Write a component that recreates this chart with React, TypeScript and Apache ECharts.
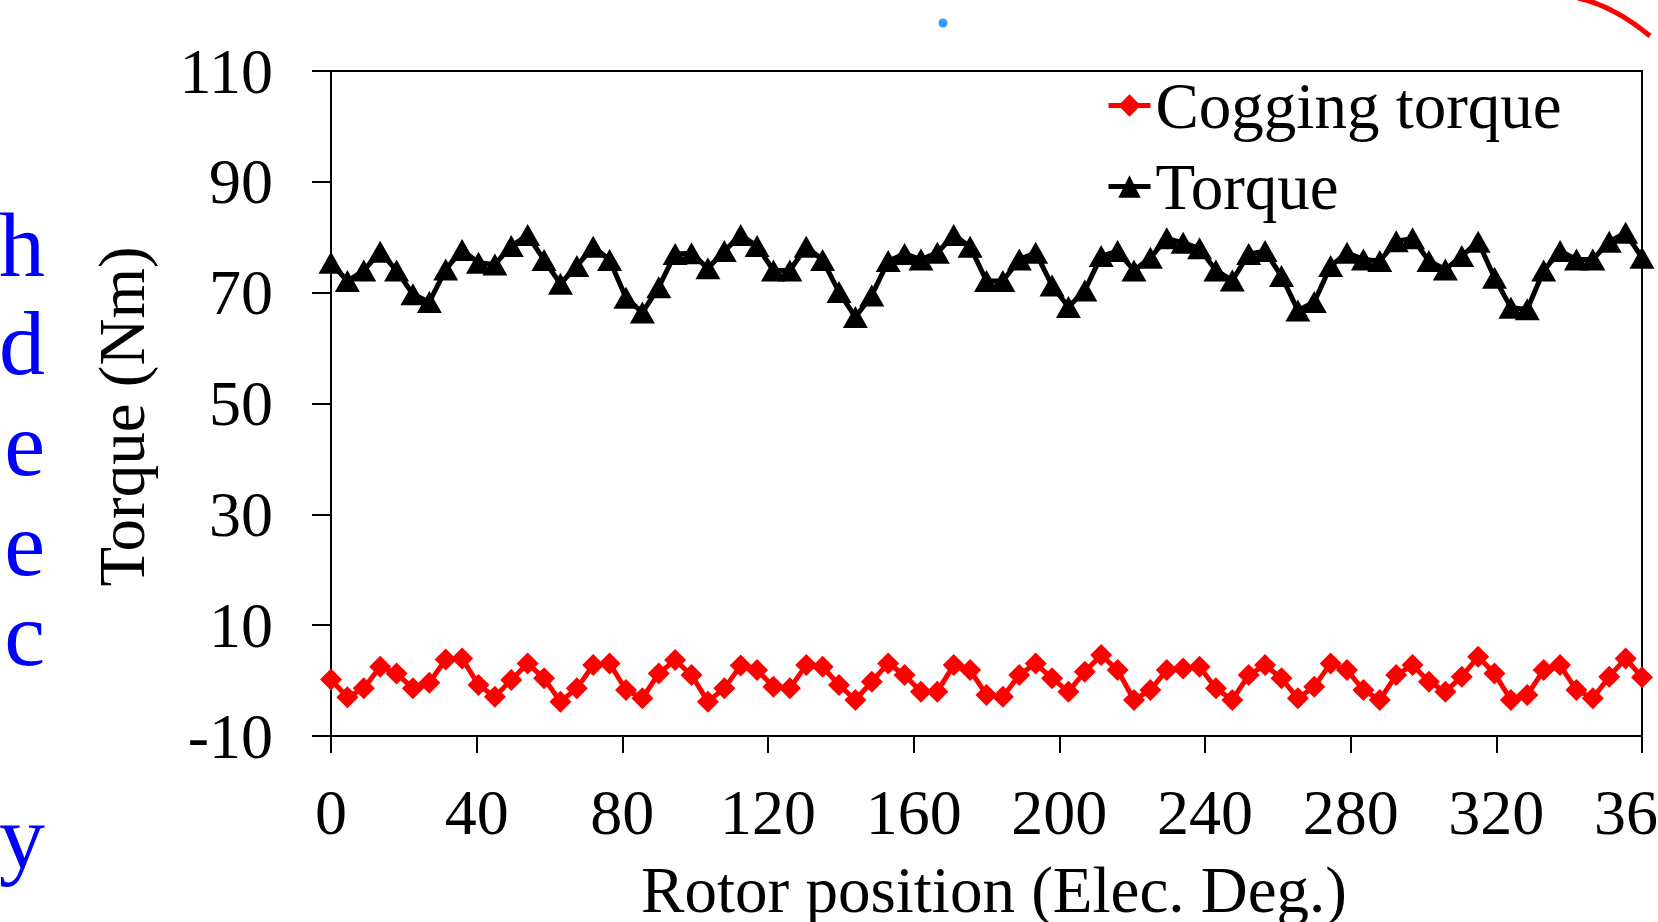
import React, { useEffect, useRef } from "react";
import * as echarts from "echarts";

// Rotor position (electrical degrees)
const angles = [
  0, 4.5, 9, 13.5, 18, 22.5, 27, 31.5, 36, 40.5, 45, 49.5, 54, 58.5, 63, 67.5, 72, 76.5, 81, 85.5,
  90, 94.5, 99, 103.5, 108, 112.5, 117, 121.5, 126, 130.5, 135, 139.5, 144, 148.5, 153, 157.5, 162, 166.5, 171, 175.5,
  180, 184.5, 189, 193.5, 198, 202.5, 207, 211.5, 216, 220.5, 225, 229.5, 234, 238.5, 243, 247.5, 252, 256.5, 261, 265.5,
  270, 274.5, 279, 283.5, 288, 292.5, 297, 301.5, 306, 310.5, 315, 319.5, 324, 328.5, 333, 337.5, 342, 346.5, 351, 355.5,
  360,
];

const cogging = [
  0.2, -3.0, -1.4, 2.5, 1.3, -1.4, -0.4, 3.8, 4.0, -0.8,
  -2.9, 0.1, 3.1, 0.4, -3.8, -1.4, 2.8, 3.1, -1.7, -3.2,
  1.3, 3.7, 1.0, -3.8, -1.4, 2.7, 1.9, -1.1, -1.4, 2.8,
  2.5, -0.8, -3.5, -0.2, 3.1, 1.0, -2.0, -2.0, 2.8, 1.9,
  -2.6, -2.9, 1.0, 3.1, 0.4, -2.0, 1.6, 4.6, 1.9, -3.5,
  -1.7, 1.9, 2.2, 2.5, -1.4, -3.5, 1.0, 2.8, 0.4, -3.2,
  -1.1, 3.1, 1.9, -1.7, -3.5, 1.0, 2.8, -0.2, -2.0, 0.7,
  4.3, 1.3, -3.5, -2.6, 1.9, 2.8, -1.7, -3.2, 0.7, 4.0,
  0.6,
];

const torque = [
  75.4, 72.1, 74.0, 77.4, 74.0, 69.7, 68.3, 74.2, 77.7, 75.4,
  75.1, 78.4, 80.4, 75.9, 71.6, 74.8, 78.3, 75.9, 69.1, 66.4,
  71.0, 77.0, 77.1, 74.4, 77.5, 80.4, 78.4, 74.0, 74.0, 78.3,
  75.9, 70.1, 65.6, 69.5, 75.7, 77.0, 76.0, 77.2, 80.4, 78.3,
  72.1, 72.1, 76.0, 77.2, 71.3, 67.4, 70.4, 76.6, 77.5, 74.0,
  76.3, 79.8, 79.0, 78.0, 74.0, 72.2, 77.0, 77.5, 73.0, 66.8,
  68.3, 74.8, 77.2, 76.0, 75.7, 79.3, 79.8, 75.7, 74.2, 76.6,
  79.2, 72.7, 67.3, 67.0, 74.0, 77.5, 76.0, 76.0, 79.2, 80.8,
  76.3,
];

const yTicks = [-10, 10, 30, 50, 70, 90, 110];
const seriesNames = ["Cogging torque", "Torque"];
const xAxisName = "Rotor position (Elec. Deg.)";
const yAxisName = "Torque (Nm)";
const sideLetters = ["h", "d", "e", "e", "c", "y"];

const FONT = "'Liberation Serif', 'Times New Roman', serif";

export default function App() {
  const ref = useRef<HTMLDivElement>(null);

  useEffect(() => {
    if (!ref.current) return;
    const chart = echarts.init(ref.current, undefined, { renderer: "svg" });

    const sideBaselines = [276, 374, 475, 575, 665, 868];

    const legendCommon = {
      left: 1106,
      itemWidth: 42,
      itemHeight: 28,
      padding: 0,
      lineStyle: { width: 5 },
      textStyle: { fontFamily: FONT, fontSize: 65, color: "#000" },
    };

    const option: any = {
      animation: false,
      backgroundColor: "#ffffff",
      grid: {
        left: 331,
        right: 16,
        top: 71,
        bottom: 186,
        show: true,
        borderColor: "#000",
        borderWidth: 2,
        backgroundColor: "transparent",
        outerBoundsMode: "none",
        containLabel: false,
      },
      xAxis: {
        type: "value",
        min: 0,
        max: 360,
        interval: 40,
        name: xAxisName,
        nameLocation: "middle",
        nameGap: 121,
        nameTextStyle: { fontFamily: FONT, fontSize: 65, color: "#000", padding: [0, 0, 0, 15] },
        axisLine: { show: true, onZero: false, lineStyle: { color: "#000", width: 2 } },
        axisTick: { show: true, length: 17, lineStyle: { color: "#000", width: 2 } },
        axisLabel: { fontFamily: FONT, fontSize: 64, color: "#000", margin: 44, showMaxLabel: true, showMinLabel: true },
        splitLine: { show: false },
      },
      yAxis: {
        type: "value",
        min: -10,
        max: 110,
        name: yAxisName,
        nameLocation: "middle",
        nameRotate: 90,
        nameGap: 177,
        nameTextStyle: { fontFamily: FONT, fontSize: 65, color: "#000", padding: [0, 26, 0, 0] },
        axisLine: { show: true, onZero: false, lineStyle: { color: "#000", width: 2 } },
        axisTick: { show: true, length: 19, customValues: yTicks, lineStyle: { color: "#000", width: 2 } },
        axisLabel: { fontFamily: FONT, fontSize: 64, color: "#000", margin: 58, customValues: yTicks },
        splitLine: { show: false },
      },
      legend: [
        { ...legendCommon, data: [seriesNames[0]], top: 73 },
        { ...legendCommon, data: [seriesNames[1]], top: 154 },
      ],
      series: [
        {
          name: seriesNames[0],
          type: "line",
          data: angles.map((a, i) => [a, cogging[i]]),
          symbol: "diamond",
          symbolSize: 22,
          showAllSymbol: true,
          lineStyle: { color: "#ff0000", width: 5 },
          itemStyle: { color: "#ff0000" },
          clip: false,
        },
        {
          name: seriesNames[1],
          type: "line",
          data: angles.map((a, i) => [a, torque[i]]),
          symbol: "triangle",
          symbolSize: [25, 22],
          showAllSymbol: true,
          lineStyle: { color: "#000000", width: 5 },
          itemStyle: { color: "#000000" },
          clip: false,
        },
      ],
      graphic: [
        ...sideLetters.map((ch, i) => ({
          type: "text",
          x: 45,
          y: sideBaselines[i] - 31,
          style: {
            text: ch,
            font: `92px ${FONT}`,
            lineHeight: 76,
            fill: "#0000ff",
            align: "right",
            verticalAlign: "middle",
          },
        })),
        {
          type: "circle",
          shape: { cx: 943, cy: 23, r: 4.5 },
          style: { fill: "#3399ff" },
        },
        {
          type: "bezierCurve",
          shape: { x1: 1578, y1: -2, cpx1: 1614, cpy1: 6, x2: 1650, y2: 36 },
          style: { stroke: "#ff0000", lineWidth: 5, fill: "none" },
        },
      ],
    };

    chart.setOption(option);
    return () => chart.dispose();
  }, []);

  return (
    <div
      ref={ref}
      style={{ position: "absolute", left: 0, top: 0, width: 1658, height: 922, background: "#fff" }}
    />
  );
}
